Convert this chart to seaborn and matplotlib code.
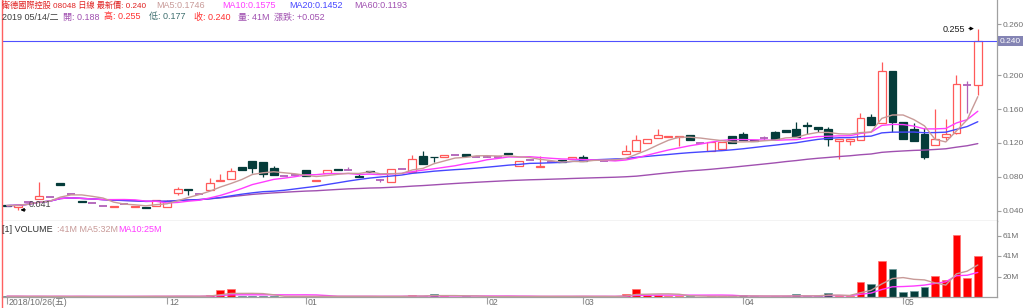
import numpy as np
import pandas as pd
import matplotlib
matplotlib.use("Agg")
import matplotlib.pyplot as plt
import matplotlib.transforms as mtrans
from matplotlib.lines import Line2D
import seaborn as sns

# ---------------- data ----------------
opens = [0.047, 0.045, 0.050, 0.054, 0.056, 0.073, 0.060, 0.052, 0.049, 0.046,
         0.045, 0.048, 0.045, 0.044, 0.046, 0.045, 0.061, 0.066, 0.060, 0.065,
         0.075, 0.078, 0.092, 0.099, 0.098, 0.091, 0.081, 0.082, 0.088, 0.075,
         0.084, 0.089, 0.088, 0.081, 0.087, 0.076, 0.074, 0.089, 0.086, 0.105,
         0.104, 0.103, 0.106, 0.107, 0.104, 0.104, 0.104, 0.108, 0.093, 0.100,
         0.092, 0.097, 0.100, 0.101, 0.103, 0.100, 0.099, 0.100, 0.107, 0.111,
         0.120, 0.126, 0.127, 0.127, 0.129, 0.120, 0.111, 0.113, 0.128, 0.130,
         0.124, 0.126, 0.133, 0.135, 0.136, 0.141, 0.139, 0.137, 0.122, 0.122,
         0.124, 0.151, 0.144, 0.205, 0.145, 0.137, 0.131, 0.118, 0.127, 0.132,
         0.188, 0.188]
highs = [0.047, 0.047, 0.050, 0.074, 0.056, 0.073, 0.060, 0.052, 0.049, 0.046,
         0.046, 0.048, 0.046, 0.044, 0.053, 0.053, 0.068, 0.066, 0.060, 0.079,
         0.083, 0.090, 0.092, 0.099, 0.098, 0.093, 0.081, 0.082, 0.088, 0.076,
         0.088, 0.089, 0.092, 0.084, 0.087, 0.078, 0.089, 0.089, 0.106, 0.110,
         0.104, 0.106, 0.106, 0.107, 0.104, 0.106, 0.104, 0.108, 0.099, 0.100,
         0.105, 0.097, 0.100, 0.103, 0.106, 0.100, 0.099, 0.100, 0.118, 0.129,
         0.125, 0.137, 0.128, 0.128, 0.129, 0.120, 0.121, 0.121, 0.128, 0.133,
         0.124, 0.128, 0.134, 0.135, 0.145, 0.145, 0.139, 0.139, 0.125, 0.125,
         0.155, 0.154, 0.215, 0.205, 0.145, 0.143, 0.138, 0.160, 0.148, 0.200,
         0.193, 0.255]
lows = [0.046, 0.041, 0.050, 0.054, 0.056, 0.070, 0.060, 0.050, 0.049, 0.046,
        0.045, 0.048, 0.045, 0.043, 0.046, 0.045, 0.058, 0.059, 0.060, 0.065,
        0.075, 0.078, 0.088, 0.085, 0.080, 0.082, 0.081, 0.082, 0.081, 0.075,
        0.084, 0.088, 0.088, 0.080, 0.086, 0.074, 0.074, 0.089, 0.086, 0.095,
        0.098, 0.103, 0.106, 0.105, 0.104, 0.103, 0.104, 0.107, 0.093, 0.100,
        0.092, 0.097, 0.098, 0.101, 0.099, 0.100, 0.099, 0.100, 0.107, 0.111,
        0.120, 0.126, 0.127, 0.116, 0.124, 0.120, 0.111, 0.113, 0.120, 0.124,
        0.122, 0.123, 0.125, 0.133, 0.127, 0.131, 0.133, 0.116, 0.101, 0.118,
        0.124, 0.141, 0.144, 0.133, 0.125, 0.122, 0.101, 0.118, 0.124, 0.130,
        0.155, 0.177]
closes = [0.046, 0.047, 0.050, 0.0575, 0.056, 0.070, 0.060, 0.050, 0.049, 0.046,
          0.046, 0.048, 0.046, 0.043, 0.053, 0.051, 0.066, 0.065, 0.060, 0.073,
          0.076, 0.087, 0.088, 0.090, 0.083, 0.082, 0.081, 0.082, 0.081, 0.076,
          0.088, 0.088, 0.088, 0.080, 0.086, 0.076, 0.089, 0.089, 0.101, 0.095,
          0.103, 0.106, 0.106, 0.105, 0.104, 0.104, 0.104, 0.107, 0.099, 0.100,
          0.093, 0.097, 0.098, 0.103, 0.099, 0.100, 0.099, 0.100, 0.110, 0.124,
          0.125, 0.129, 0.128, 0.128, 0.124, 0.120, 0.121, 0.121, 0.120, 0.124,
          0.122, 0.126, 0.125, 0.133, 0.127, 0.140, 0.137, 0.125, 0.125, 0.125,
          0.149, 0.141, 0.205, 0.145, 0.125, 0.122, 0.104, 0.125, 0.130, 0.190,
          0.188, 0.240]
volumes = [0.8, 0.8, 0.5, 0.8, 0.5, 0.8, 0.5, 0.8, 0.5, 0.5,
           0.8, 0.5, 0.8, 0.8, 0.8, 0.8, 0.8, 0.8, 0.5, 2.0,
           6.8, 7.8, 0.8, 0.8, 0.8, 0.8, 0.5, 0.5, 0.8, 0.8,
           0.8, 0.8, 0.5, 0.8, 0.8, 0.5, 0.8, 0.5, 2.0, 1.0,
           2.7, 0.8, 0.5, 0.8, 0.5, 0.5, 0.5, 0.8, 0.8, 0.5,
           0.8, 0.5, 0.8, 0.8, 0.8, 0.5, 0.5, 0.5, 2.7, 8.5,
           1.7, 2.0, 0.8, 0.8, 0.8, 0.5, 0.8, 0.8, 0.8, 2.0,
           0.8, 0.5, 0.8, 0.8, 2.7, 0.8, 0.8, 4.4, 0.8, 0.8,
           14.6, 13.0, 36.0, 28.0, 5.5, 6.0, 10.0, 21.0, 17.0, 62.0,
           19.0, 41.0]
tick_pos = [0, 15, 28, 45, 54, 69, 84]
tick_labels = ["2018/10/26(五)", "12", "01", "02", "03", "04", "05"]
price_ticks = [0.04, 0.08, 0.12, 0.16, 0.20, 0.26]
vol_ticks = [20.5, 41.0, 61.5]
vol_tick_labels = ["20M", "41M", "61M"]
last_price = 0.240
high_mark = 0.255
low_mark = 0.041

# ---------------- style ----------------
sns.set_theme(style="white")
plt.rcParams["font.family"] = ["Liberation Sans", "Noto Sans CJK TC", "DejaVu Sans"]

RED = "#ff5a5a"
DARK = "#053c3a"
DOJI = "#b060b8"
C_MA5 = "#c89a98"
C_MA10 = "#ff3cff"
C_MA20 = "#4646ff"
C_MA60 = "#a050b0"
GREY = "#a0a0a0"

df = pd.DataFrame(dict(idx=np.arange(len(closes)), open=opens, high=highs,
                       low=lows, close=closes, vol=volumes))
for n in (5, 10, 20, 60):
    df[f"ma{n}"] = df["close"].rolling(n, min_periods=1).mean()
df["vma5"] = df["vol"].rolling(5, min_periods=1).mean()
df["vma10"] = df["vol"].rolling(10, min_periods=1).mean()

W, H = 1024, 308
fig = plt.figure(figsize=(W / 100, H / 100), dpi=100)
fig.patch.set_facecolor("white")
ax = fig.add_axes([2 / W, (H - 221) / H, 995 / W, 221 / H])
axv = fig.add_axes([2 / W, (H - 297) / H, 995 / W, 76 / H], sharex=ax)

# ---------------- candles ----------------
up = df[df.close > df.open]
dn = df[df.close < df.open]
fl = df[df.close == df.open]
bw = 0.74
ax.vlines(up.idx, up.low, up.high, color=RED, lw=0.9, zorder=2)
ax.vlines(dn.idx, dn.low, dn.high, color=DARK, lw=0.9, zorder=2)
ax.vlines(fl.idx, fl.low, fl.high, color=DOJI, lw=0.9, zorder=2)
ax.bar(up.idx, up.close - up.open, bottom=up.open, width=bw,
       facecolor="white", edgecolor=RED, linewidth=0.9, zorder=3)
ax.bar(dn.idx, dn.open - dn.close, bottom=dn.close, width=bw,
       facecolor=DARK, edgecolor=DARK, linewidth=0.9, zorder=3)
ax.hlines(fl.close, fl.idx - bw / 2, fl.idx + bw / 2, color=DOJI, lw=1.3, zorder=3)

for col, c in (("ma60", C_MA60), ("ma20", C_MA20), ("ma10", C_MA10), ("ma5", C_MA5)):
    sns.lineplot(data=df, x="idx", y=col, ax=ax, color=c, lw=1.0, zorder=4, legend=False)

ax.axhline(last_price, color="#5050ff", lw=0.8, zorder=5)

# high / low marks
ax.annotate("", xy=(df.idx.iloc[-1] - 0.1, high_mark), xytext=(df.idx.iloc[-1] - 1.1, high_mark),
            arrowprops=dict(arrowstyle="-|>", color="black", lw=0.7, mutation_scale=5), zorder=6)
ax.text(df.idx.iloc[-1] - 1.2, high_mark - 0.0015, f"{high_mark:.3f}", ha="right", va="center",
        fontsize=6.5, color="#202020", zorder=6)
low_i = int(df.low.idxmin())
ax.annotate("", xy=(low_i, low_mark), xytext=(low_i + 1.0, low_mark),
            arrowprops=dict(arrowstyle="-|>", color="black", lw=0.7, mutation_scale=5), zorder=6)
ax.text(low_i + 1.0, low_mark + 0.0065, f"{low_mark:.3f}", ha="left", va="center",
        fontsize=6.5, color="#404040", zorder=6)

ax.set_ylim(0.0279, 0.2887)
ax.set_xlim(-0.47, 92.8)
ax.set_xlabel("")
ax.set_ylabel("")
ax.yaxis.tick_right()
ax.set_yticks(price_ticks)
ax.set_yticklabels([f"{v:.3f}" for v in price_ticks])
ax.tick_params(axis="y", right=True, direction="out", length=3, width=0.8, color=GREY,
               labelsize=6, labelcolor="#707070", pad=1)
ax.tick_params(axis="x", bottom=False, labelbottom=False)
for s in ("top", "left"):
    ax.spines[s].set_visible(False)
for s in ("right", "bottom"):
    ax.spines[s].set_color(GREY)
    ax.spines[s].set_linewidth(0.9)

tr = mtrans.blended_transform_factory(ax.transAxes, ax.transData)
ax.text(1.003, last_price, f"{last_price:.3f}", transform=tr, ha="left", va="center",
        fontsize=6, color="white", clip_on=False,
        bbox=dict(boxstyle="square,pad=0.2", fc="#8484b4", ec="none"))

# ---------------- volume ----------------
vup = df[df.close >= df.open]
vdn = df[df.close < df.open]
axv.bar(vup.idx, vup.vol, width=bw, color="#ff0000", edgecolor="#ff7070", linewidth=0.5, zorder=2)
axv.bar(vdn.idx, vdn.vol, width=bw, color=DARK, edgecolor="#6a9a9a", linewidth=0.5, zorder=2)
sns.lineplot(data=df, x="idx", y="vma10", ax=axv, color=C_MA10, lw=1.0, zorder=3, legend=False)
sns.lineplot(data=df, x="idx", y="vma5", ax=axv, color=C_MA5, lw=1.0, zorder=3, legend=False)
axv.set_ylim(0, 76)
axv.set_xlim(-0.47, 92.8)
axv.set_xlabel("")
axv.set_ylabel("")
axv.yaxis.tick_right()
axv.set_yticks(vol_ticks)
axv.set_yticklabels(vol_tick_labels)
axv.tick_params(axis="y", right=True, direction="out", length=3, width=0.8, color=GREY,
                labelsize=6, labelcolor="#707070", pad=1)
axv.set_xticks(tick_pos)
axv.set_xticklabels([])
axv.tick_params(axis="x", bottom=True, direction="out", length=5, width=0.8, color=GREY)
xtr = mtrans.blended_transform_factory(axv.transData, axv.transAxes)
for p, lab in zip(tick_pos, tick_labels):
    axv.annotate(lab, xy=(p, 0), xycoords=xtr, xytext=(2, -5.5), textcoords="offset pixels",
                 ha="left", va="center", fontsize=6.3, color="#707070", annotation_clip=False)
for s in ("top", "left"):
    axv.spines[s].set_visible(False)
for s in ("right", "bottom"):
    axv.spines[s].set_color(GREY)
    axv.spines[s].set_linewidth(0.9)

# ---------------- header texts ----------------
def ftext(x, y, s, c, fs=6.5):
    fig.text(x / W, 1 - y / H, s, color=c, fontsize=fs, ha="left", va="center")

ftext(2, 6, "衛德國際控股 08048 日線 最新價: 0.240", "#e02020", fs=5.9)
ftext(156, 6, "MA5:0.1746", C_MA5)
ftext(222, 6, "MA10:0.1575", C_MA10)
ftext(289, 6, "MA20:0.1452", C_MA20)
ftext(354, 6, "MA60:0.1193", C_MA60)

ftext(2, 17, "2019 05/14/二", "#404040")
ftext(63, 17, "開: 0.188", "#a050b0")
ftext(104, 17, "高: 0.255", "#ff3030")
ftext(149, 17, "低: 0.177", "#407070")
ftext(194, 17, "收: 0.240", "#ff3030")
ftext(238, 17, "量: 41M", "#a050b0")
ftext(274, 17, "漲跌: +0.052", "#a050b0")

ftext(2, 229, "[1] VOLUME", "#303030")
ftext(57, 229, ":41M MA5:32M", C_MA5)
ftext(118, 229, "MA10:25M", C_MA10)

fig.add_artist(Line2D([1.5 / W, 1.5 / W], [0, 1], color="#ff6060", lw=1.0))

fig.savefig("out.png", dpi=100, facecolor="white")
